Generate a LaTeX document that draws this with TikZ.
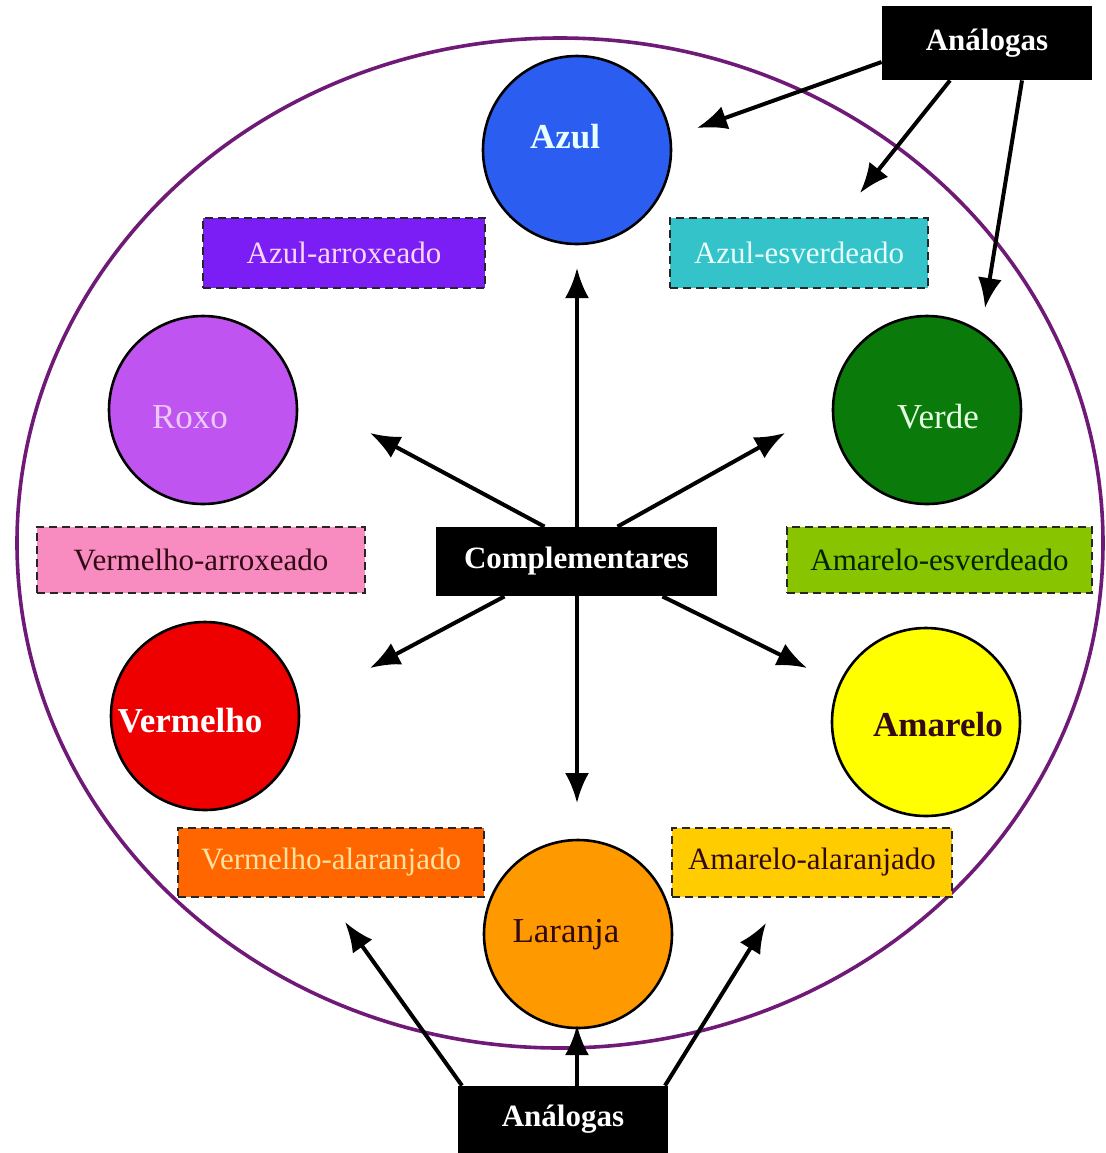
\documentclass[tikz,border=0pt]{standalone}
\usepackage{fontspec}
\setmainfont{Liberation Serif}
\usetikzlibrary{arrows.meta}
\definecolor{ringc}{RGB}{112,26,120}
\definecolor{cazul}{RGB}{43,94,240}
\definecolor{caa}{RGB}{122,30,245}
\definecolor{cae}{RGB}{51,195,200}
\definecolor{croxo}{RGB}{192,84,240}
\definecolor{cverde}{RGB}{10,122,10}
\definecolor{cva}{RGB}{248,140,192}
\definecolor{came}{RGB}{136,196,0}
\definecolor{cverm}{RGB}{238,0,0}
\definecolor{camar}{RGB}{255,255,0}
\definecolor{cval}{RGB}{255,102,0}
\definecolor{camal}{RGB}{255,204,0}
\definecolor{clar}{RGB}{255,153,0}
\definecolor{tpink}{RGB}{250,215,250}
\definecolor{tcyan}{RGB}{232,255,255}
\definecolor{tlav}{RGB}{235,200,250}
\definecolor{tdark}{RGB}{50,10,20}
\definecolor{tlyel}{RGB}{255,225,160}
\begin{document}
\begin{tikzpicture}[x=0.5pt,y=-0.5pt,
  blackbox/.style={fill=black,text=white,font=\fontsize{15.5}{18}\selectfont\bfseries,inner sep=0pt},
  colbox/.style={draw=black!85,dashed,dash pattern=on 4pt off 2.5pt,line width=1pt,inner sep=0pt,font=\fontsize{15.5}{18}\selectfont},
  disc/.style={circle,draw=black,line width=1.3pt,inner sep=0pt,minimum size=94pt},
  clabel/.style={font=\fontsize{17.5}{20}\selectfont,inner sep=0pt},
  arr/.style={line width=2pt,-{Latex[length=15pt,width=12pt]}}
]
\useasboundingbox (0,0) rectangle (1105,1153);
\fill[white] (0,0) rectangle (1105,1153);
\draw[ringc,line width=1.8pt] (560,543) ellipse [x radius=271.5pt, y radius=252.5pt];

% circles
\node[disc,fill=cazul] (azul) at (577,150) {};
\node[disc,fill=croxo] (roxo) at (203,410) {};
\node[disc,fill=cverde] (verde) at (927,410) {};
\node[disc,fill=cverm] (verm) at (205,716) {};
\node[disc,fill=camar] (amar) at (926,722) {};
\node[disc,fill=clar] (lar) at (578,934) {};

\node[clabel,font=\fontsize{17.5}{20}\selectfont\bfseries,text=tcyan] (tazul) at (565,137) {Azul};
\node[clabel,text=tlav] (troxo) at (190,417) {Roxo};
\node[clabel,text=white!90!green] (tverde) at (938,417) {Verde};
\node[clabel,font=\fontsize{17.5}{20}\selectfont\bfseries,text=white] (tverm) at (190,721) {Vermelho};
\node[clabel,font=\fontsize{17.5}{20}\selectfont\bfseries,text=tdark] (tamar) at (938,725) {Amarelo};
\node[clabel,text=tdark] (tlar) at (566,935) {Laranja};

% coloured boxes
\node[colbox,fill=caa,text=tpink,minimum width=141pt,minimum height=35pt] (aa) at (344,253) {Azul-arroxeado};
\node[colbox,fill=cae,text=tcyan,minimum width=129pt,minimum height=35pt] (ae) at (799,253) {Azul-esverdeado};
\node[colbox,fill=cva,text=tdark,minimum width=164pt,minimum height=33pt] (va) at (201,560) {Vermelho-arroxeado};
\node[colbox,fill=came,text=black!85!green,minimum width=152.5pt,minimum height=33pt] (ame) at (939.5,560) {Amarelo-esverdeado};
\node[colbox,fill=cval,text=tlyel,minimum width=153pt,minimum height=34.5pt] (val) at (331,862.5) {Vermelho-alaranjado};
\node[colbox,fill=camal,text=tdark,minimum width=140pt,minimum height=34.5pt] (amal) at (812,862.5) {Amarelo-alaranjado};

% black boxes
\node[blackbox,minimum width=105pt,minimum height=37pt] (anT) at (987,43) {Análogas};
\node[blackbox,minimum width=140.5pt,minimum height=34.5pt] (comp) at (576.5,561.5) {Complementares};
\node[blackbox,minimum width=105pt,minimum height=33.5pt] (anB) at (563,1119.5) {Análogas};

% arrow tips
\coordinate (p1) at (697,128);
\coordinate (p2) at (860,193);
\coordinate (p3) at (985,308);
\coordinate (p4) at (577,268);
\coordinate (p5) at (370,433);
\coordinate (p6) at (785,433);
\coordinate (p7) at (370,668);
\coordinate (p8) at (807,668);
\coordinate (p9) at (577,803);
\coordinate (p10) at (345,922);
\coordinate (p11) at (577,1025);
\coordinate (p12) at (766,923);

\draw[arr] ([yshift=-9.5pt]anT.west) -- (p1);
\draw[arr] ([xshift=-18.5pt]anT.south) -- (p2);
\draw[arr] ([xshift=17.5pt]anT.south) -- (p3);
\draw[arr] ([xshift=0.25pt]comp.north) -- (p4);
\draw[arr] ([xshift=-16pt]comp.north) -- (p5);
\draw[arr] ([xshift=20.5pt]comp.north) -- (p6);
\draw[arr] ([xshift=-36pt]comp.south) -- (p7);
\draw[arr] ([xshift=43pt]comp.south) -- (p8);
\draw[arr] ([xshift=0.25pt]comp.south) -- (p9);
\draw[arr] ([xshift=-50.5pt]anB.north) -- (p10);
\draw[arr] ([xshift=7pt]anB.north) -- (p11);
\draw[arr] ([xshift=51pt]anB.north) -- (p12);
\end{tikzpicture}
\end{document}
